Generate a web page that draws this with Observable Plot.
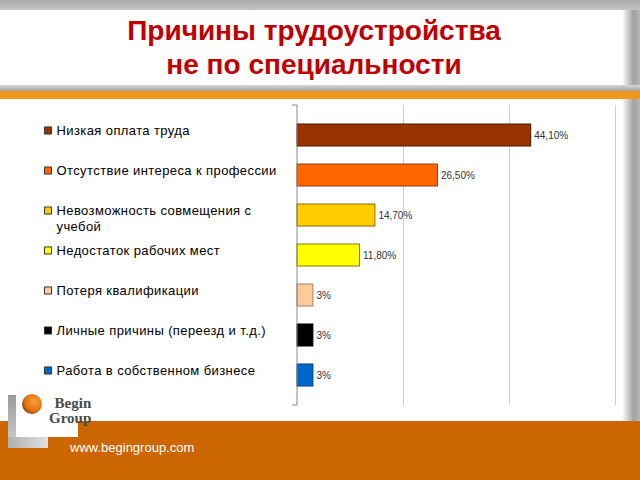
<!DOCTYPE html>
<html><head><meta charset="utf-8">
<script src="https://cdn.jsdelivr.net/npm/d3@7"></script>
<script src="https://cdn.jsdelivr.net/npm/@observablehq/plot@0.6"></script>
<style>
html,body{margin:0;padding:0;background:#fff;}
#page{position:relative;width:640px;height:480px;overflow:hidden;background:#fff;font-family:"Liberation Sans",Arial,sans-serif;}
.abs{position:absolute;}
#topbar{left:0;top:0;width:640px;height:10px;background:linear-gradient(#a9a9a9,#c4c4c4);}
#title{left:0;top:10px;width:628px;height:76px;text-align:center;color:#c00000;font-weight:bold;font-size:28px;line-height:34px;padding-top:4px;box-sizing:border-box;}
#sep{left:0;top:85px;width:640px;height:6px;background:linear-gradient(#d6d6d6,#a4a4a4);}
#orange{left:0;top:91px;width:640px;height:8px;background:#f2961d;}
.shadow{left:622px;width:18px;background:linear-gradient(to right,rgba(255,255,255,0),#a0a0a0 65%,#b8b8b8);}
#footer{left:0;top:421px;width:640px;height:59px;background:#cc6600;}
#logobox{left:15px;top:392px;width:63px;height:45px;background:#fff;}
#lv{left:8px;top:395px;width:8px;height:53px;background:linear-gradient(#9a9a9a,#d0d0d0);}
#lh{left:8px;top:437px;width:40px;height:11px;background:linear-gradient(to right,#b0b0b0,#e0e0e0);}
#circle{left:22px;top:394px;width:20px;height:20px;border-radius:50%;background:radial-gradient(circle at 62% 38%,#f7a23a,#e07010 55%,#5a3010 85%);}
#brand{left:49px;top:396px;color:#4a4a4a;font-family:"Liberation Serif","DejaVu Serif",serif;font-weight:bold;font-size:15px;line-height:15px;text-align:right;}
#url{left:70px;top:440px;color:#fff;font-size:13px;}
#chart{left:0;top:95px;}
</style>
</head><body>
<div id="page">
  <div class="abs" id="topbar"></div>
  <div class="abs" id="title">Причины трудоустройства<br>не по специальности</div>
  <div class="abs shadow" style="top:10px;height:75px"></div>
  <div class="abs" id="sep"></div>
  <div class="abs" id="orange"></div>
  <div class="abs shadow" style="top:99px;height:322px"></div>
  <div class="abs" id="footer"></div>
  <div class="abs" id="logobox"></div>
  <div class="abs" id="lv"></div>
  <div class="abs" id="lh"></div>
  <div class="abs" id="circle"></div>
  <div class="abs" id="brand">Begin<br>Group</div>
  <div class="abs" id="url">www.begingroup.com</div>
  <div class="abs" id="chart"></div>
</div>
<script>
const categories = [
  "Низкая оплата труда",
  "Отсутствие интереса к профессии",
  "Невозможность совмещения с\nучебой",
  "Недостаток рабочих мест",
  "Потеря квалификации",
  "Личные причины (переезд и т.д.)",
  "Работа в собственном бизнесе"
];
const values = [44.1, 26.5, 14.7, 11.8, 3, 3, 3];
const valueLabels = ["44,10%", "26,50%", "14,70%", "11,80%", "3%", "3%", "3%"];
const fillColors = ["#993300", "#ff6600", "#ffcc00", "#ffff00", "#ffcc99", "#000000", "#0066cc"];
const strokeColors = ["#4a1800", "#9a3d00", "#8a6e00", "#808000", "#a08060", "#000000", "#003a75"];
const xTicks = [20, 40, 60];

const rows = categories.map((c, i) => ({
  category: c, value: values[i], label: valueLabels[i], fill: fillColors[i], stroke: strokeColors[i]
}));

function bracket(index, scales, vals, dims) {
  const x0 = scales.x(0);
  const top = dims.marginTop, bottom = dims.height - dims.marginBottom;
  return d3.create("svg:path")
    .attr("d", `M${x0 - 5},${top}H${x0}V${bottom}H${x0 - 5}`)
    .attr("fill", "none").attr("stroke", "#8a8a8a").node();
}

const chart = Plot.plot({
  width: 640, height: 320,
  marginLeft: 297, marginRight: 25, marginTop: 10, marginBottom: 10,
  x: {domain: [0, 60], axis: null},
  y: {domain: categories, axis: null, paddingInner: 0.45, paddingOuter: 0, insetTop: 17.7, insetBottom: 18},
  color: {type: "identity"},
  style: {fontFamily: "'Liberation Sans', Arial, sans-serif", background: "transparent", overflow: "visible"},
  marks: [
    Plot.ruleX(xTicks, {stroke: "#cccccc", strokeOpacity: 1}),
    Plot.barX(rows, {x: "value", y: "category", fill: "fill", stroke: "stroke", strokeWidth: 1}),
    bracket,
    Plot.text(rows, {x: "value", y: "category", text: "label", dx: 3, textAnchor: "start", fontSize: 10, fill: "#333"}),
    Plot.dot(rows, {y: "category", frameAnchor: "left", dx: -249.5, dy: -5, symbol: "square", r: 4, fill: "fill", stroke: "#333", strokeWidth: 1}),
    Plot.text(rows, {y: "category", text: "category", frameAnchor: "left", dx: -241, dy: -12, lineAnchor: "top", lineHeight: 1.23, textAnchor: "start", fontSize: 13, fill: "#000"})
  ]
});
const textGroups = chart.querySelectorAll('g[aria-label="text"]');
textGroups[textGroups.length - 1].setAttribute("letter-spacing", "0.4");
document.getElementById("chart").appendChild(chart);
</script>
</body></html>
